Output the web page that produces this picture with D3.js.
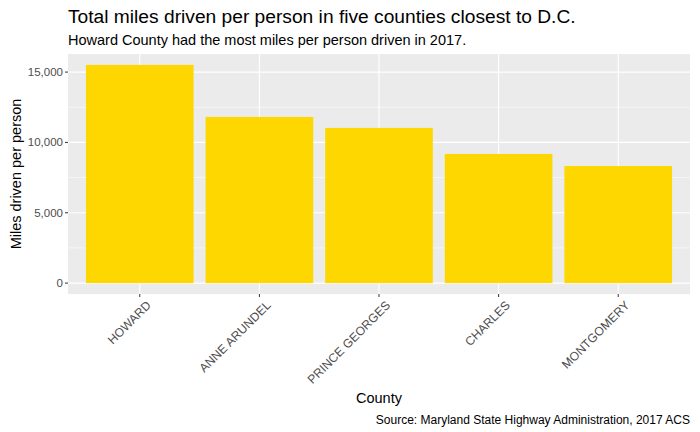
<!DOCTYPE html>
<html>
<head>
<meta charset="utf-8">
<script src="https://cdn.jsdelivr.net/npm/d3@7"></script>
<style>
  body { margin: 0; background: #fff; }
  text { font-family: "Liberation Sans", Arial, sans-serif; }
</style>
</head>
<body>
<div id="chart"></div>
<script>
var counties = ['HOWARD', 'ANNE ARUNDEL', 'PRINCE GEORGES', 'CHARLES', 'MONTGOMERY']
var miles = [15510, 11810, 11030, 9180, 8320]
var yTicks = [0, 5000, 10000, 15000]
var yMinor = [2500, 7500, 12500]

var W = 700, H = 432
var panel = {left: 68, right: 690, top: 54, bottom: 294}

var svg = d3.select('#chart').append('svg')
  .attr('width', W)
  .attr('height', H)

// scales (ggplot style expansion)
var x = d3.scaleLinear()
  .domain([0.4, counties.length + 0.6])
  .range([panel.left, panel.right])
var ymax = d3.max(miles)
var y = d3.scaleLinear()
  .domain([-ymax * 0.05, ymax * 1.05])
  .range([panel.bottom, panel.top])

svg.append('rect')
  .attr('x', panel.left)
  .attr('y', panel.top)
  .attr('width', panel.right - panel.left)
  .attr('height', panel.bottom - panel.top)
  .attr('fill', '#EBEBEB')

// grid
svg.selectAll('.minor').data(yMinor).enter().append('line')
  .attr('x1', panel.left).attr('x2', panel.right)
  .attr('y1', function(d) { return y(d) }).attr('y2', function(d) { return y(d) })
  .attr('stroke', '#fff').attr('stroke-width', 0.55)
svg.selectAll('.major').data(yTicks).enter().append('line')
  .attr('x1', panel.left).attr('x2', panel.right)
  .attr('y1', function(d) { return y(d) }).attr('y2', function(d) { return y(d) })
  .attr('stroke', '#fff').attr('stroke-width', 1.1)
svg.selectAll('.vgrid').data(counties).enter().append('line')
  .attr('x1', function(d, i) { return x(i + 1) }).attr('x2', function(d, i) { return x(i + 1) })
  .attr('y1', panel.top).attr('y2', panel.bottom)
  .attr('stroke', '#fff').attr('stroke-width', 1.1)

// bars
svg.selectAll('.bar').data(miles).enter().append('rect')
  .attr('x', function(d, i) { return x(i + 1 - 0.45) })
  .attr('width', x(1.45) - x(0.55))
  .attr('y', function(d) { return y(d) })
  .attr('height', function(d) { return y(0) - y(d) })
  .attr('fill', '#FFD700')

// y axis
var fmt = d3.format(',')
yTicks.forEach(function(t) {
  svg.append('line')
    .attr('x1', panel.left - 3).attr('x2', panel.left)
    .attr('y1', y(t)).attr('y2', y(t))
    .attr('stroke', '#333').attr('stroke-width', 1)
  svg.append('text')
    .attr('x', panel.left - 5)
    .attr('y', y(t))
    .attr('dy', '0.35em')
    .attr('text-anchor', 'end')
    .attr('font-size', 11.5)
    .attr('fill', '#4D4D4D')
    .text(fmt(t))
})

// x axis
counties.forEach(function(c, i) {
  var cx = x(i + 1)
  svg.append('line')
    .attr('x1', cx).attr('x2', cx)
    .attr('y1', panel.bottom).attr('y2', panel.bottom + 3)
    .attr('stroke', '#333').attr('stroke-width', 1)
  svg.append('text')
    .attr('transform', 'translate(' + (cx + 6) + ',' + (panel.bottom + 6) + ') rotate(-45)')
    .attr('text-anchor', 'end')
    .attr('dy', '0.7em')
    .attr('font-size', 12.2)
    .attr('fill', '#4D4D4D')
    .text(c)
})

// titles
svg.append('text')
  .attr('x', panel.left).attr('y', 23)
  .attr('font-size', 19.2)
  .attr('fill', '#000')
  .text('Total miles driven per person in five counties closest to D.C.')
svg.append('text')
  .attr('x', panel.left).attr('y', 45)
  .attr('font-size', 14.5)
  .attr('fill', '#000')
  .text('Howard County had the most miles per person driven in 2017.')

svg.append('text')
  .attr('x', (panel.left + panel.right) / 2).attr('y', 403)
  .attr('text-anchor', 'middle')
  .attr('font-size', 14.5)
  .text('County')
svg.append('text')
  .attr('transform', 'translate(21,' + ((panel.top + panel.bottom) / 2) + ') rotate(-90)')
  .attr('text-anchor', 'middle')
  .attr('font-size', 14.5)
  .text('Miles driven per person')

svg.append('text')
  .attr('x', panel.right).attr('y', 424)
  .attr('text-anchor', 'end')
  .attr('font-size', 12)
  .text('Source: Maryland State Highway Administration, 2017 ACS')
</script>
</body>
</html>
